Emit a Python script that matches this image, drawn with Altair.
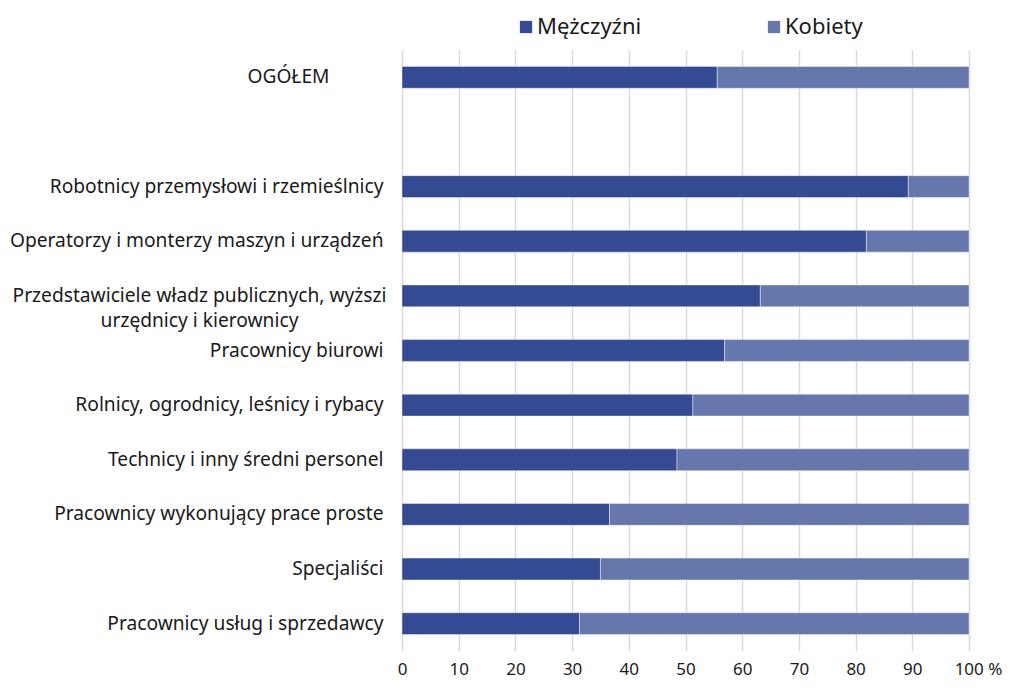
import altair as alt
import pandas as pd

categories = [
    "OGÓŁEM",
    " ",
    "Robotnicy przemysłowi i rzemieślnicy",
    "Operatorzy i monterzy maszyn i urządzeń",
    "Przedstawiciele władz publicznych, wyższi urzędnicy i kierownicy",
    "Pracownicy biurowi",
    "Rolnicy, ogrodnicy, leśnicy i rybacy",
    "Technicy i inny średni personel",
    "Pracownicy wykonujący prace proste",
    "Specjaliści",
    "Pracownicy usług i sprzedawcy",
]
men = [55.6, None, 89.3, 81.9, 63.2, 56.9, 51.3, 48.5, 36.6, 35.0, 31.3]
women = [44.4, None, 10.7, 18.1, 36.8, 43.1, 48.7, 51.5, 63.4, 65.0, 68.7]
series = ["Mężczyźni", "Kobiety"]
colors = ["#344b94", "#6677ae"]
x_ticks = [0, 10, 20, 30, 40, 50, 60, 70, 80, 90, 100]

rows = []
for c, m, w in zip(categories, men, women):
    if m is None:
        continue
    rows.append({"cat": c, "series": series[0], "value": m, "ord": 0})
    rows.append({"cat": c, "series": series[1], "value": w, "ord": 1})
df = pd.DataFrame(rows)

FONT = "Noto Sans"
TXT = "#1a1a1a"
LONG = "Przedstawiciele władz publicznych, wyższi urzędnicy i kierownicy"
wrap_expr = (
    "datum.value == '" + LONG + "' ? "
    "['Przedstawiciele władz publicznych, wyższi', 'urzędnicy i kierownicy'] : datum.value"
)

chart = alt.Chart(df).mark_bar(stroke="#ffffff", strokeWidth=0.6, strokeOpacity=0.7).encode(
    y=alt.Y(
        "cat:N",
        sort=categories,
        scale=alt.Scale(domain=categories, paddingInner=0.6, paddingOuter=0.3),
        axis=alt.Axis(
            title=None, ticks=False, domain=False, labelLimit=0,
            labelPadding={"condition": [
                {"test": "datum.value == 'OGÓŁEM'", "value": 73},
                {"test": "datum.value == '" + LONG + "'", "value": 203},
            ], "value": 19},
            labelAlign={"condition": {"test": "datum.value == '" + LONG + "'", "value": "center"},
                        "value": "right"},
            labelFontSize=19.2, labelColor=TXT, labelFont=FONT, labelExpr=wrap_expr,
            labelLineHeight=25,
        ),
    ),
    x=alt.X(
        "value:Q",
        stack="zero",
        scale=alt.Scale(domain=[0, 100], nice=False),
        axis=alt.Axis(
            values=x_ticks, title=None, ticks=False, domain=False, labelFlush=False,
            gridColor="#d9d9d9", gridWidth=1.5,
            labelExpr="datum.value == 100 ? '100 %' : datum.value",
            labelOffset={"condition": {"test": "datum.value == 100", "value": 9}, "value": 0},
            labelPadding=10, labelFontSize=17, labelColor=TXT, labelFont=FONT,
        ),
    ),
    color=alt.Color(
        "series:N",
        scale=alt.Scale(domain=series, range=colors),
        legend=alt.Legend(
            orient="none", legendX=113, legendY=-34, direction="horizontal",
            title=None, symbolType="square", symbolSize=150, symbolStrokeWidth=0,
            labelFontSize=22, labelFont=FONT, labelColor=TXT, columnPadding=121,
            labelOffset=0,
        ),
    ),
    order=alt.Order("ord:Q"),
).properties(
    width=567,
    height=601,
    autosize=alt.AutoSizeParams(type="none"),
    padding={"left": 394, "top": 42, "right": 33, "bottom": 29},
).configure_view(stroke=None)

chart.save("out.html", embed_options={"renderer": "svg", "actions": False})
